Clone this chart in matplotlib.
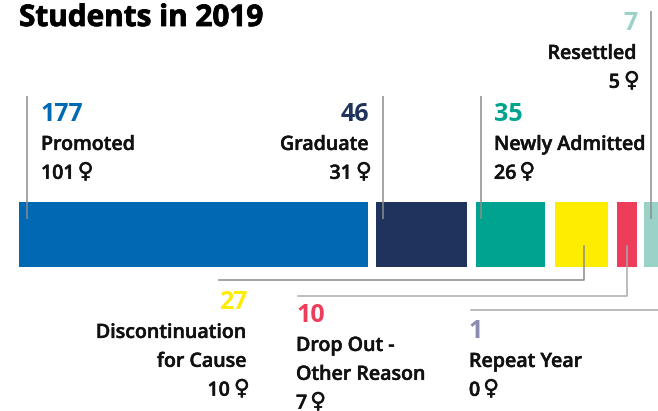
import matplotlib
matplotlib.use('Agg')
import matplotlib.pyplot as plt
import matplotlib.patheffects as pe

# students in 2019, in bar order
categories = ['Promoted', 'Graduate', 'Newly Admitted', 'Discontinuation\nfor Cause',
              'Drop Out -\nOther Reason', 'Resettled', 'Repeat Year']
totals = [177, 46, 35, 27, 10, 7, 1]
females = [101, 31, 26, 10, 7, 5, 0]
colors = ['#0069b4', '#1f335c', '#00a38f', '#ffed00', '#ed3d5a', '#9ad2c8', '#8c8cae']

# label anchor: x, baseline of the number, alignment
anchors = [(41, 121, 'left'), (369, 121, 'right'), (494, 121, 'left'), (247, 309, 'right'),
           (296, 322, 'left'), (637, 30, 'right'), (469, 338, 'left')]

# white space after each bar
gaps = [8.5, 9, 10.5, 8.5, 7.5, 9, 9]

FONT = ['Open Sans', 'DejaVu Sans']
INK = '#111111'
LINE = '#8c8c8c'
px = 1.97   # pixels per student
step = 28.9

# open sans semibold comes out light, thicken it a little
thick = [pe.withStroke(linewidth=0.35, foreground=INK)]

fig = plt.figure(figsize=(6.58, 4.11), dpi=100)
ax = fig.add_axes([0, 0, 1, 1])
ax.set_xlim(0, 658)
ax.set_ylim(411, 0)
ax.axis('off')

left = 19
for total, color, gap in zip(totals, colors, gaps):
    ax.barh(234.5, total * px, height=65, left=left, color=color, linewidth=0, zorder=1)
    left += total * px + gap

# leader lines
for x, y0 in [(27, 96), (383, 96), (481, 96), (650.5, 11)]:
    ax.plot([x, x], [y0, 219], color=LINE, lw=1.1, zorder=2, solid_capstyle='butt')
ax.plot([219, 583.5, 583.5], [279.5, 279.5, 246], color=LINE, lw=1.1, zorder=2)
ax.plot([298, 627, 627], [296, 296, 246], color='#aaaaaa', lw=1.1, zorder=2)
ax.plot([471, 658], [310, 310], color='#aaaaaa', lw=1.1, zorder=2)

ax.text(19, 26, 'Students in 2019', fontsize=21.4, fontweight='bold', family=FONT,
        color='#000000', va='baseline',
        path_effects=[pe.withStroke(linewidth=0.6, foreground='#000000')])

renderer = fig.canvas.get_renderer()

for name, total, female, color, (x, y, ha) in zip(categories, totals, females, colors, anchors):
    ax.text(x, y, str(total), fontsize=18, fontweight='bold', family=FONT, color=color,
            ha=ha, va='baseline')
    row = y
    for part in name.split('\n'):
        row += step
        ax.text(x, row, part, fontsize=14.1, fontweight='semibold', family=FONT,
                color=INK, ha=ha, va='baseline', path_effects=thick)
    row += step
    num = ax.text(x if ha == 'left' else x - 17, row, str(female), fontsize=14.1,
                  fontweight='semibold', family=FONT, color=INK, ha=ha, va='baseline',
                  path_effects=thick)
    # sign is a bit taller than the digits and sits just after them
    if ha == 'left':
        sign_x = num.get_window_extent(renderer).x1 + 3
    else:
        sign_x = x - 13
    ax.text(sign_x, row - 1, '\u2640', fontsize=15.5, family=['DejaVu Sans'], color=INK,
            ha='left', va='baseline', path_effects=thick)

fig.savefig('out.png', dpi=100)
